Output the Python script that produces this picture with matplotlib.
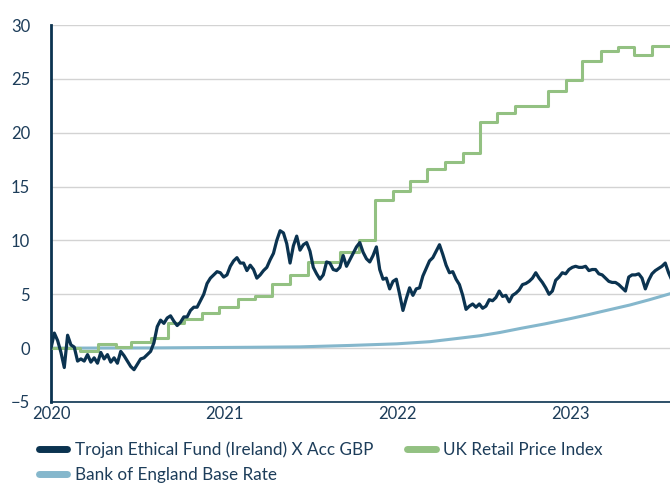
import matplotlib
matplotlib.use("Agg")
import matplotlib.pyplot as plt
from matplotlib.lines import Line2D
import pandas as pd

# Trojan Ethical Fund (Ireland) X Acc GBP, weekly % return from 1 Jan 2020
fund = [
    0.0, 1.4, 0.7, -0.4, -1.8, 1.2, 0.3, 0.1, -1.2, -1.0,
    -1.2, -0.6, -1.3, -0.9, -1.4, -0.4, -1.0, -0.6, -1.3, -0.9,
    -1.4, -0.3, -0.7, -1.2, -1.7, -2.0, -1.5, -1.0, -0.9, -0.6,
    -0.3, 0.5, 2.0, 2.6, 2.3, 2.8, 3.0, 2.5, 2.1, 2.4,
    2.9, 2.9, 3.5, 3.8, 3.8, 4.4, 5.0, 6.0, 6.5, 6.8,
    7.1, 7.0, 6.6, 6.8, 7.6, 8.1, 8.4, 7.9, 7.9, 7.2,
    7.7, 7.3, 6.5, 6.8, 7.2, 7.5, 8.2, 8.8, 10.0, 10.9,
    10.7, 9.7, 7.9, 9.5, 10.4, 9.1, 9.6, 9.8, 9.0, 7.5,
    6.9, 6.4, 6.8, 8.0, 7.9, 7.3, 7.2, 7.5, 8.6, 7.6,
    8.2, 8.8, 9.4, 9.8, 8.9, 8.3, 8.0, 8.6, 9.4, 7.3,
    6.4, 6.5, 5.5, 6.2, 6.4, 5.0, 3.5, 4.6, 5.6, 4.9,
    5.5, 5.6, 6.7, 7.4, 8.1, 8.4, 9.0, 9.6, 8.7, 7.7,
    7.0, 7.1, 6.4, 5.9, 4.9, 3.6, 3.9, 4.1, 3.8, 4.1,
    3.7, 3.9, 4.5, 4.4, 4.7, 5.3, 4.8, 4.9, 4.3, 4.9,
    5.1, 5.4, 5.9, 6.0, 6.2, 6.5, 7.0, 6.5, 6.1, 5.6,
    5.0, 5.3, 6.3, 6.6, 7.0, 6.9, 7.3, 7.5, 7.6, 7.5,
    7.5, 7.6, 7.2, 7.3, 7.3, 6.9, 6.8, 6.5, 6.2, 6.1,
    6.1, 5.9, 5.6, 5.3, 6.6, 6.8, 6.8, 6.9, 6.5, 5.5,
    6.3, 6.9, 7.2, 7.4, 7.6, 7.9, 7.0, 6.3,
]

# UK Retail Price Index, cumulative % (value changes on these dates)
rpi_dates = [
    "2020-01-01", "2020-03-02", "2020-04-10", "2020-05-16", "2020-06-18",
    "2020-07-30", "2020-09-03", "2020-10-08", "2020-11-14", "2020-12-20",
    "2021-01-29", "2021-03-06", "2021-04-10", "2021-05-18", "2021-06-25",
    "2021-09-01", "2021-10-12", "2021-11-14", "2021-12-22", "2022-01-27",
    "2022-03-03", "2022-04-10", "2022-05-18", "2022-06-23", "2022-07-30",
    "2022-09-05", "2022-10-13", "2022-11-14", "2022-12-21", "2023-01-24",
    "2023-03-06", "2023-04-10", "2023-05-15", "2023-06-22", "2023-07-29",
]
rpi = [
    0.0, -0.3, 0.4, 0.1, 0.55,
    0.95, 2.3, 2.7, 3.3, 3.8,
    4.55, 4.85, 5.95, 6.8, 8.0,
    8.9, 10.0, 13.75, 14.6, 15.55,
    16.65, 17.3, 18.15, 21.0, 21.8,
    22.5, 22.45, 23.9, 24.85, 26.7,
    27.6, 28.0, 27.2, 28.05, 28.05,
]

# Bank of England Base Rate, cumulative %
boe_dates = [
    "2020-01-01", "2020-07-28", "2021-02-23", "2021-06-09", "2021-09-22",
    "2021-12-30", "2022-03-10", "2022-05-01", "2022-06-23", "2022-08-04",
    "2022-09-19", "2022-11-07", "2023-01-01", "2023-02-06", "2023-03-07",
    "2023-05-05", "2023-06-16", "2023-07-29",
]
boe = [
    0.0, 0.02, 0.08, 0.12, 0.25,
    0.4, 0.6, 0.87, 1.15, 1.45,
    1.85, 2.25, 2.75, 3.1, 3.4,
    4.0, 4.5, 5.05,
]

year_ticks = ["2020-01-01", "2021-01-01", "2022-01-01", "2023-01-01"]
year_labels = ["2020", "2021", "2022", "2023"]

navy = "#0b3350"
green = "#93c182"
blue = "#85b7cc"
text_col = "#1d3d5a"

plt.rcParams["font.family"] = ["Lato", "DejaVu Sans"]

fig = plt.figure(figsize=(6.7, 4.83), dpi=100)
ax = fig.add_axes([51 / 670, 1 - 402 / 483, 1 - 51 / 670, 377 / 483])

fund_dates = pd.date_range("2020-01-01", periods=len(fund), freq="7D")
ax.plot(pd.to_datetime(boe_dates), boe, color=blue, lw=2.2, zorder=3)
ax.plot(pd.to_datetime(rpi_dates), rpi, color=green, lw=2.2, drawstyle="steps-post", zorder=4)
ax.plot(fund_dates, fund, color=navy, lw=2.3, zorder=5, solid_joinstyle="round")

ax.set_ylim(-5, 30)
ax.set_yticks(range(-5, 31, 5))
ax.set_xlim(pd.Timestamp("2020-01-01"), pd.Timestamp("2023-07-29"))
ax.set_xticks(pd.to_datetime(year_ticks))
ax.set_xticklabels(year_labels)

ax.grid(axis="y", color="#d3d3d3", lw=1.0, zorder=0)
ax.set_axisbelow(True)
for s in ["top", "right"]:
    ax.spines[s].set_visible(False)
ax.spines["left"].set_color(navy)
ax.spines["left"].set_linewidth(2.0)
ax.spines["bottom"].set_color(navy)
ax.spines["bottom"].set_linewidth(1.2)
ax.tick_params(axis="both", length=0, labelsize=12, colors=text_col)
ax.tick_params(axis="y", pad=15)
ax.tick_params(axis="x", pad=3)

handles = [
    Line2D([], [], color=navy, lw=5, solid_capstyle="round"),
    Line2D([], [], color=blue, lw=5, solid_capstyle="round"),
    Line2D([], [], color=green, lw=5, solid_capstyle="round"),
]
labels = [
    "Trojan Ethical Fund (Ireland) X Acc GBP",
    "Bank of England Base Rate",
    "UK Retail Price Index",
]
leg = fig.legend(handles, labels, ncol=2, loc="upper left",
                 bbox_to_anchor=(39 / 670, 1 - 441 / 483), frameon=False,
                 fontsize=12.3, handlelength=1.65, handletextpad=0.45,
                 columnspacing=2.0, labelspacing=0.56, borderaxespad=0,
                 borderpad=0)
for t in leg.get_texts():
    t.set_color(text_col)

fig.savefig("out.png", dpi=100)
